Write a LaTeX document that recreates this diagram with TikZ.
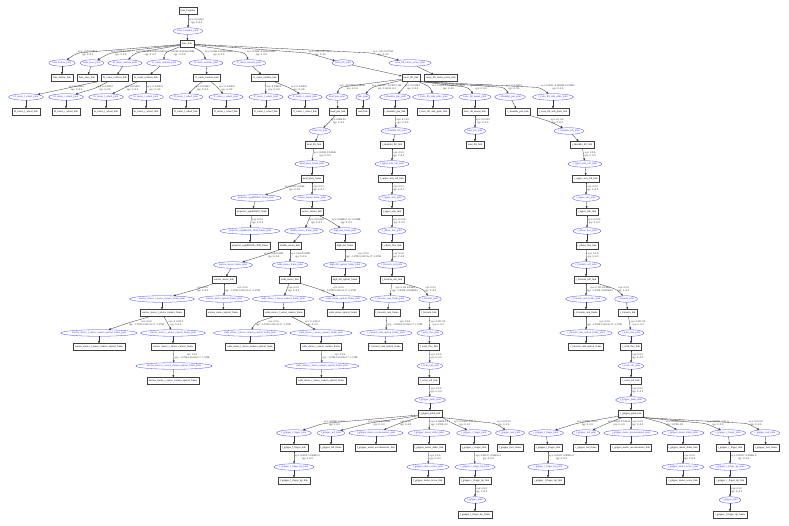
\documentclass[tikz,border=0pt]{standalone}
\usepackage{fontspec}
\setmainfont{Liberation Serif}
\usetikzlibrary{arrows.meta,shapes.geometric}
\tikzset{
  every node/.append style={font=\fontsize{2.55}{2.9}\selectfont},
  lnk/.style={draw=black!75, line width=0.35pt, rectangle, inner xsep=1.8pt, inner ysep=0pt, minimum height=6.8pt, minimum width=11pt},
  jnt/.style={draw=blue!75, text=blue!85, line width=0.3pt, ellipse, inner xsep=0pt, inner ysep=0pt, minimum height=6.5pt},
  lbl/.style={align=center, inner xsep=1pt, inner ysep=0pt, anchor=west, text=black!85},
  edge/.style={draw=black!80, line width=0.3pt, rounded corners=4pt, -{Triangle[length=2.2pt,width=1.7pt]}},
}
\newcommand\Lk[2]{\node[lnk] (#1) at (#2) {#1};}
\newcommand\Jt[2]{\node[jnt] (#1) at (#2) {#1};}
\newcommand\E[2]{\draw[edge] (#1) -- (#2);}
\newcommand\LE[4]{\node[lbl] (lab-#2) at (#3) {#4};\draw[edge] (#1) -- (lab-#2.west) -- (#2);}
\newcommand\X[1]{xyz: #1\\rpy: 0 -0 0}
\newcommand\XR[2]{xyz: #1\\rpy: #2}
\newcommand\OPT{xyz: 0 0 0\\rpy: -1.5708 5.55112e-17 -1.5708}
\begin{document}
\catcode`\_=12
\begin{tikzpicture}[x=1pt,y=1pt]
\useasboundingbox (0,0) rectangle (789,-526);
\fill[white] (0,0) rectangle (789,-526);
% ---------------- nodes ----------------
\Lk{base_footprint}{188,-11}
\Jt{base_footprint_joint}{188,-31}
\Lk{base_link}{187,-44}
\Jt{base_bellow_joint}{62,-63}
\Jt{base_laser_joint}{92,-63}
\Jt{bl_caster_rotation_joint}{125,-63}
\Jt{br_caster_rotation_joint}{164,-63}
\Jt{fl_caster_rotation_joint}{206,-63}
\Jt{fr_caster_rotation_joint}{249,-63}
\Jt{torso_lift_joint}{343,-63}
\Jt{torso_lift_motor_screw_joint}{410,-63}
\Lk{base_bellow_link}{62,-78}
\Lk{base_laser_link}{87,-78}
\Lk{bl_caster_rotation_link}{115,-78}
\Lk{br_caster_rotation_link}{146,-78}
\Lk{fl_caster_rotation_link}{207,-78}
\Lk{fr_caster_rotation_link}{265,-78}
\Lk{torso_lift_link}{411,-78}
\Lk{torso_lift_motor_screw_link}{441,-78}
\Jt{bl_caster_l_wheel_joint}{26,-97}
\Jt{bl_caster_r_wheel_joint}{66,-97}
\Jt{br_caster_l_wheel_joint}{106,-97}
\Jt{br_caster_r_wheel_joint}{146,-97}
\Jt{fl_caster_l_wheel_joint}{186,-97}
\Jt{fl_caster_r_wheel_joint}{226,-97}
\Jt{fr_caster_l_wheel_joint}{266,-97}
\Jt{fr_caster_r_wheel_joint}{305,-97}
\Jt{head_pan_joint}{337,-97}
\Jt{imu_joint}{363,-97}
\Jt{l_shoulder_pan_joint}{395,-97}
\Jt{l_torso_lift_side_plate_joint}{433,-97}
\Jt{laser_tilt_mount_joint}{475,-97}
\Jt{r_shoulder_pan_joint}{510,-97}
\Jt{r_torso_lift_side_plate_joint}{553,-97}
\Lk{bl_caster_l_wheel_link}{26,-112}
\Lk{bl_caster_r_wheel_link}{66,-112}
\Lk{br_caster_l_wheel_link}{106,-112}
\Lk{br_caster_r_wheel_link}{146,-112}
\Lk{fl_caster_l_wheel_link}{186,-112}
\Lk{fl_caster_r_wheel_link}{226,-112}
\Lk{fr_caster_l_wheel_link}{266,-112}
\Lk{fr_caster_r_wheel_link}{305,-112}
\Lk{head_pan_link}{338,-112}
\Lk{imu_link}{363,-112}
\Lk{l_shoulder_pan_link}{395,-112}
\Lk{l_torso_lift_side_plate_link}{433,-112}
\Lk{laser_tilt_mount_link}{475,-112}
\Lk{r_shoulder_pan_link}{518,-112}
\Lk{r_torso_lift_side_plate_link}{553,-112}
\Jt{head_tilt_joint}{320,-131}
\Jt{l_shoulder_lift_joint}{396,-131}
\Jt{laser_tilt_joint}{475,-131}
\Jt{r_shoulder_lift_joint}{569,-131}
\Lk{head_tilt_link}{314,-145}
\Lk{l_shoulder_lift_link}{392,-145}
\Lk{laser_tilt_link}{475,-145}
\Lk{r_shoulder_lift_link}{582,-145}
\Jt{head_plate_frame_joint}{312,-164}
\Jt{l_upper_arm_roll_joint}{392,-164}
\Jt{r_upper_arm_roll_joint}{585,-164}
\Lk{head_plate_frame}{312,-179}
\Lk{l_upper_arm_roll_link}{392,-179}
\Lk{r_upper_arm_roll_link}{586,-179}
\Jt{projector_wg6802418_frame_joint}{256,-198}
\Jt{sensor_mount_frame_joint}{312,-198}
\Jt{l_upper_arm_joint}{392,-198}
\Jt{r_upper_arm_joint}{586,-198}
\Lk{projector_wg6802418_frame}{252,-212}
\Lk{sensor_mount_link}{312,-212}
\Lk{l_upper_arm_link}{392,-212}
\Lk{r_upper_arm_link}{587,-212}
\Jt{projector_wg6802418_child_frame_joint}{250,-231}
\Jt{double_stereo_frame_joint}{304,-231}
\Jt{high_def_frame_joint}{345,-231}
\Jt{l_elbow_flex_joint}{392,-231}
\Jt{r_elbow_flex_joint}{587,-231}
\Lk{projector_wg6802418_child_frame}{250,-246}
\Lk{double_stereo_link}{290,-246}
\Lk{high_def_frame}{345,-246}
\Lk{l_elbow_flex_link}{392,-246}
\Lk{r_elbow_flex_link}{587,-246}
\Jt{narrow_stereo_frame_joint}{233,-265}
\Jt{wide_stereo_frame_joint}{290,-265}
\Jt{high_def_optical_frame_joint}{345,-265}
\Jt{l_forearm_roll_joint}{392,-265}
\Jt{r_forearm_roll_joint}{586,-265}
\Lk{narrow_stereo_link}{224,-280}
\Lk{wide_stereo_link}{290,-280}
\Lk{high_def_optical_frame}{345,-280}
\Lk{l_forearm_roll_link}{392,-280}
\Lk{r_forearm_roll_link}{586,-280}
\Jt{narrow_stereo_l_stereo_camera_frame_joint}{162,-299}
\Jt{narrow_stereo_optical_frame_joint}{224,-299}
\Jt{wide_stereo_l_stereo_camera_frame_joint}{283,-299}
\Jt{wide_stereo_optical_frame_joint}{343,-299}
\Jt{l_forearm_cam_frame_joint}{390,-299}
\Jt{l_forearm_joint}{430,-299}
\Jt{r_forearm_cam_frame_joint}{586,-299}
\Jt{r_forearm_joint}{626,-299}
\Lk{narrow_stereo_l_stereo_camera_frame}{162,-313}
\Lk{narrow_stereo_optical_frame}{223,-313}
\Lk{wide_stereo_l_stereo_camera_frame}{284,-313}
\Lk{wide_stereo_optical_frame}{343,-313}
\Lk{l_forearm_cam_frame}{387,-313}
\Lk{l_forearm_link}{429,-313}
\Lk{r_forearm_cam_frame}{586,-313}
\Lk{r_forearm_link}{628,-313}
\Jt{narrow_stereo_l_stereo_camera_optical_frame_joint}{99,-333}
\Jt{narrow_stereo_r_stereo_camera_frame_joint}{173,-333}
\Jt{wide_stereo_l_stereo_camera_optical_frame_joint}{250,-333}
\Jt{wide_stereo_r_stereo_camera_frame_joint}{321,-333}
\Jt{l_forearm_cam_optical_frame_joint}{386,-333}
\Jt{l_wrist_flex_joint}{430,-333}
\Jt{r_forearm_cam_optical_frame_joint}{586,-333}
\Jt{r_wrist_flex_joint}{631,-333}
\Lk{narrow_stereo_l_stereo_camera_optical_frame}{99,-347}
\Lk{narrow_stereo_r_stereo_camera_frame}{173,-347}
\Lk{wide_stereo_l_stereo_camera_optical_frame}{250,-347}
\Lk{wide_stereo_r_stereo_camera_frame}{321,-347}
\Lk{l_forearm_cam_optical_frame}{385,-347}
\Lk{l_wrist_flex_link}{429,-347}
\Lk{r_forearm_cam_optical_frame}{586,-347}
\Lk{r_wrist_flex_link}{631,-347}
\Jt{narrow_stereo_r_stereo_camera_optical_frame_joint}{174,-366}
\Jt{wide_stereo_r_stereo_camera_optical_frame_joint}{322,-366}
\Jt{l_wrist_roll_joint}{430,-366}
\Jt{r_wrist_roll_joint}{631,-366}
\Lk{narrow_stereo_r_stereo_camera_optical_frame}{173,-381}
\Lk{wide_stereo_r_stereo_camera_optical_frame}{321,-381}
\Lk{l_wrist_roll_link}{429,-381}
\Lk{r_wrist_roll_link}{631,-381}
\Jt{l_gripper_palm_joint}{430,-400}
\Jt{r_gripper_palm_joint}{631,-400}
\Lk{l_gripper_palm_link}{430,-414}
\Lk{r_gripper_palm_link}{631,-414}
\Jt{l_gripper_l_finger_joint}{294,-433}
\Jt{l_gripper_led_joint}{331,-433}
\Jt{l_gripper_motor_accelerometer_joint}{376,-433}
\Jt{l_gripper_motor_slider_joint}{429,-433}
\Jt{l_gripper_r_finger_joint}{474,-433}
\Jt{l_gripper_tool_joint}{510,-433}
\Jt{r_gripper_l_finger_joint}{546,-433}
\Jt{r_gripper_led_joint}{586,-433}
\Jt{r_gripper_motor_accelerometer_joint}{631,-433}
\Jt{r_gripper_motor_slider_joint}{683,-433}
\Jt{r_gripper_r_finger_joint}{728,-433}
\Jt{r_gripper_tool_joint}{765,-433}
\Lk{l_gripper_l_finger_link}{294,-448}
\Lk{l_gripper_led_frame}{331,-448}
\Lk{l_gripper_motor_accelerometer_link}{376,-448}
\Lk{l_gripper_motor_slider_link}{429,-448}
\Lk{l_gripper_r_finger_link}{474,-448}
\Lk{l_gripper_tool_frame}{510,-448}
\Lk{r_gripper_l_finger_link}{548,-448}
\Lk{r_gripper_led_frame}{586,-448}
\Lk{r_gripper_motor_accelerometer_link}{631,-448}
\Lk{r_gripper_motor_slider_link}{683,-448}
\Lk{r_gripper_r_finger_link}{730,-448}
\Lk{r_gripper_tool_frame}{766,-448}
\Jt{l_gripper_l_finger_tip_joint}{294,-467}
\Jt{l_gripper_motor_screw_joint}{428,-467}
\Jt{l_gripper_r_finger_tip_joint}{475,-467}
\Jt{r_gripper_l_finger_tip_joint}{548,-467}
\Jt{r_gripper_motor_screw_joint}{683,-467}
\Jt{r_gripper_r_finger_tip_joint}{730,-467}
\Lk{l_gripper_l_finger_tip_link}{294,-481}
\Lk{l_gripper_motor_screw_link}{428,-481}
\Lk{l_gripper_r_finger_tip_link}{475,-481}
\Lk{r_gripper_l_finger_tip_link}{548,-481}
\Lk{r_gripper_motor_screw_link}{683,-481}
\Lk{r_gripper_r_finger_tip_link}{730,-481}
\Jt{l_gripper_joint}{475,-500}
\Jt{r_gripper_joint}{730,-500}
\Lk{l_gripper_l_finger_tip_frame}{475,-515}
\Lk{r_gripper_l_finger_tip_frame}{730,-515}
% ---------------- edges ----------------
\LE{base_footprint}{base_footprint_joint}{188,-21}{\X{0 0 0.051}}
\E{base_footprint_joint}{base_link}
\LE{base_link}{base_bellow_joint}{77,-53}{\X{-0.29 0 0.851}}
\LE{base_link}{base_laser_joint}{110,-53}{\X{0.275 0 0.252}}
\LE{base_link}{bl_caster_rotation_joint}{135,-53}{\X{-0.2246 0.2246 0.0282}}
\LE{base_link}{br_caster_rotation_joint}{164,-53}{\X{-0.2246 -0.2246 0.0282}}
\LE{base_link}{fl_caster_rotation_joint}{204,-53}{\X{0.2246 0.2246 0.0282}}
\LE{base_link}{fr_caster_rotation_joint}{246,-53}{\X{0.2246 -0.2246 0.0282}}
\LE{base_link}{torso_lift_joint}{308,-53}{\X{-0.05 0 0.739675}}
\LE{base_link}{torso_lift_motor_screw_joint}{372,-53}{\X{-0.15 0 0.7952}}
\E{base_bellow_joint}{base_bellow_link}
\E{base_laser_joint}{base_laser_link}
\E{bl_caster_rotation_joint}{bl_caster_rotation_link}
\E{br_caster_rotation_joint}{br_caster_rotation_link}
\E{fl_caster_rotation_joint}{fl_caster_rotation_link}
\E{fr_caster_rotation_joint}{fr_caster_rotation_link}
\E{torso_lift_joint}{torso_lift_link}
\E{torso_lift_motor_screw_joint}{torso_lift_motor_screw_link}
\LE{bl_caster_rotation_link}{bl_caster_l_wheel_joint}{68,-88}{\X{0 0.049 0}}
\LE{bl_caster_rotation_link}{bl_caster_r_wheel_joint}{96,-88}{\X{0 -0.049 0}}
\LE{br_caster_rotation_link}{br_caster_l_wheel_joint}{124,-88}{\X{0 0.049 0}}
\LE{br_caster_rotation_link}{br_caster_r_wheel_joint}{146,-88}{\X{0 -0.049 0}}
\LE{fl_caster_rotation_link}{fl_caster_l_wheel_joint}{194,-88}{\X{0 0.049 0}}
\LE{fl_caster_rotation_link}{fl_caster_r_wheel_joint}{218,-88}{\X{0 -0.049 0}}
\LE{fr_caster_rotation_link}{fr_caster_l_wheel_joint}{265.5,-88}{\X{0 0.049 0}}
\LE{fr_caster_rotation_link}{fr_caster_r_wheel_joint}{290,-88}{\X{0 -0.049 0}}
\E{bl_caster_l_wheel_joint}{bl_caster_l_wheel_link}
\E{bl_caster_r_wheel_joint}{bl_caster_r_wheel_link}
\E{br_caster_l_wheel_joint}{br_caster_l_wheel_link}
\E{br_caster_r_wheel_joint}{br_caster_r_wheel_link}
\E{fl_caster_l_wheel_joint}{fl_caster_l_wheel_link}
\E{fl_caster_r_wheel_joint}{fl_caster_r_wheel_link}
\E{fr_caster_l_wheel_joint}{fr_caster_l_wheel_link}
\E{fr_caster_r_wheel_joint}{fr_caster_r_wheel_link}
\LE{torso_lift_link}{head_pan_joint}{338.5,-87.5}{\X{-0.01707 0 0.38145}}
\LE{torso_lift_link}{imu_joint}{371,-87.5}{\XR{-0.02977 -0.1497 0.164}{3.14159 -0 0}}
\LE{torso_lift_link}{l_shoulder_pan_joint}{404,-87.5}{\X{0 0.188 0}}
\LE{torso_lift_link}{l_torso_lift_side_plate_joint}{431,-87.5}{\X{0.0535 0.209285 0.176625}}
\LE{torso_lift_link.south east}{laser_tilt_mount_joint}{469,-87.5}{\X{0.09893 0 0.227}}
\LE{torso_lift_link.south east}{r_shoulder_pan_joint}{505,-87.5}{\X{0 -0.188 0}}
\LE{torso_lift_link.south east}{r_torso_lift_side_plate_joint}{540,-87.5}{\X{0.0535 -0.209285 0.176625}}
\E{head_pan_joint}{head_pan_link}
\E{imu_joint}{imu_link}
\E{l_shoulder_pan_joint}{l_shoulder_pan_link}
\E{l_torso_lift_side_plate_joint}{l_torso_lift_side_plate_link}
\E{laser_tilt_mount_joint}{laser_tilt_mount_link}
\E{r_shoulder_pan_joint}{r_shoulder_pan_link}
\E{r_torso_lift_side_plate_joint}{r_torso_lift_side_plate_link}
% head
\LE{head_pan_link}{head_tilt_joint}{330,-121.5}{\X{0.068 0 0}}
\E{head_tilt_joint}{head_tilt_link}
\LE{head_tilt_link}{head_plate_frame_joint}{313,-154.5}{\X{0.0232 0 0.0645}}
\E{head_plate_frame_joint}{head_plate_frame}
\LE{head_plate_frame}{projector_wg6802418_frame_joint}{284,-188.5}{\X{0 0.11 0.0546}}
\LE{head_plate_frame}{sensor_mount_frame_joint}{312,-188.5}{\X{0 0 0}}
\E{projector_wg6802418_frame_joint}{projector_wg6802418_frame}
\E{sensor_mount_frame_joint}{sensor_mount_link}
\LE{projector_wg6802418_frame}{projector_wg6802418_child_frame_joint}{251,-221.5}{\X{0 0 0}}
\E{projector_wg6802418_child_frame_joint}{projector_wg6802418_child_frame}
\LE{sensor_mount_link}{double_stereo_frame_joint}{308,-221.5}{\X{0 0 0.003}}
\LE{sensor_mount_link}{high_def_frame_joint}{331,-221.5}{\X{0.046457 -0.11 0.0488}}
\E{double_stereo_frame_joint}{double_stereo_link}
\E{high_def_frame_joint}{high_def_frame}
\LE{double_stereo_link}{narrow_stereo_frame_joint}{263,-255.5}{\X{0 0.06 0.0305}}
\LE{double_stereo_link}{wide_stereo_frame_joint}{290,-255.5}{\X{0 0.03 0.0305}}
\LE{high_def_frame}{high_def_optical_frame_joint}{345,-255.5}{\OPT}
\E{narrow_stereo_frame_joint}{narrow_stereo_link}
\E{wide_stereo_frame_joint}{wide_stereo_link}
\E{high_def_optical_frame_joint}{high_def_optical_frame}
\LE{narrow_stereo_link}{narrow_stereo_l_stereo_camera_frame_joint}{196,-289.5}{\X{0 0 0}}
\LE{narrow_stereo_link}{narrow_stereo_optical_frame_joint}{224,-289.5}{\OPT}
\LE{wide_stereo_link}{wide_stereo_l_stereo_camera_frame_joint}{287,-289.5}{\X{0 0 0}}
\LE{wide_stereo_link}{wide_stereo_optical_frame_joint}{320,-289.5}{\OPT}
\E{narrow_stereo_l_stereo_camera_frame_joint}{narrow_stereo_l_stereo_camera_frame}
\E{narrow_stereo_optical_frame_joint}{narrow_stereo_optical_frame}
\E{wide_stereo_l_stereo_camera_frame_joint}{wide_stereo_l_stereo_camera_frame}
\E{wide_stereo_optical_frame_joint}{wide_stereo_optical_frame}
\LE{narrow_stereo_l_stereo_camera_frame}{narrow_stereo_l_stereo_camera_optical_frame_joint}{128,-323}{\OPT}
\LE{narrow_stereo_l_stereo_camera_frame}{narrow_stereo_r_stereo_camera_frame_joint}{167.5,-323}{\X{0 -0.09 0}}
\LE{wide_stereo_l_stereo_camera_frame}{wide_stereo_l_stereo_camera_optical_frame_joint}{255,-323}{\OPT}
\LE{wide_stereo_l_stereo_camera_frame}{wide_stereo_r_stereo_camera_frame_joint}{304,-323}{\X{0 -0.09 0}}
\E{narrow_stereo_l_stereo_camera_optical_frame_joint}{narrow_stereo_l_stereo_camera_optical_frame}
\E{narrow_stereo_r_stereo_camera_frame_joint}{narrow_stereo_r_stereo_camera_frame}
\E{wide_stereo_l_stereo_camera_optical_frame_joint}{wide_stereo_l_stereo_camera_optical_frame}
\E{wide_stereo_r_stereo_camera_frame_joint}{wide_stereo_r_stereo_camera_frame}
\LE{narrow_stereo_r_stereo_camera_frame}{narrow_stereo_r_stereo_camera_optical_frame_joint}{173.5,-356.5}{\OPT}
\LE{wide_stereo_r_stereo_camera_frame}{wide_stereo_r_stereo_camera_optical_frame_joint}{321.5,-356.5}{\OPT}
\E{narrow_stereo_r_stereo_camera_optical_frame_joint}{narrow_stereo_r_stereo_camera_optical_frame}
\E{wide_stereo_r_stereo_camera_optical_frame_joint}{wide_stereo_r_stereo_camera_optical_frame}
% laser
\LE{laser_tilt_mount_link}{laser_tilt_joint}{475,-121.5}{\X{0 0 0.03}}
\E{laser_tilt_joint}{laser_tilt_link}
% left arm
\LE{l_shoulder_pan_link}{l_shoulder_lift_joint}{395.5,-121.5}{\X{0.1 0 0}}
\E{l_shoulder_lift_joint}{l_shoulder_lift_link}
\LE{l_shoulder_lift_link}{l_upper_arm_roll_joint}{392,-154.5}{\X{0 0 0}}
\E{l_upper_arm_roll_joint}{l_upper_arm_roll_link}
\LE{l_upper_arm_roll_link}{l_upper_arm_joint}{392,-188.5}{\X{0 0 0}}
\E{l_upper_arm_joint}{l_upper_arm_link}
\LE{l_upper_arm_link}{l_elbow_flex_joint}{392,-221.5}{\X{0.4 0 0}}
\E{l_elbow_flex_joint}{l_elbow_flex_link}
\LE{l_elbow_flex_link}{l_forearm_roll_joint}{392,-255.5}{\X{0 0 0}}
\E{l_forearm_roll_joint}{l_forearm_roll_link}
\LE{l_forearm_roll_link}{l_forearm_cam_frame_joint}{391,-289.5}{\XR{0.135 0 0.044}{-1.5708 -0.562869 0}}
\LE{l_forearm_roll_link}{l_forearm_joint}{424,-289.5}{\X{0 0 0}}
\E{l_forearm_cam_frame_joint}{l_forearm_cam_frame}
\E{l_forearm_joint}{l_forearm_link}
\LE{l_forearm_cam_frame}{l_forearm_cam_optical_frame_joint}{386.5,-323}{\OPT}
\LE{l_forearm_link}{l_wrist_flex_joint}{429.5,-323}{\X{0.321 0 0}}
\E{l_forearm_cam_optical_frame_joint}{l_forearm_cam_optical_frame}
\E{l_wrist_flex_joint}{l_wrist_flex_link}
\LE{l_wrist_flex_link}{l_wrist_roll_joint}{429.5,-356.5}{\X{0 0 0}}
\E{l_wrist_roll_joint}{l_wrist_roll_link}
\LE{l_wrist_roll_link}{l_gripper_palm_joint}{429.5,-390.5}{\X{0 0 0}}
\E{l_gripper_palm_joint}{l_gripper_palm_link}
\LE{l_gripper_palm_link}{l_gripper_l_finger_joint}{323,-423.5}{\X{0.07691 0.01 0}}
\LE{l_gripper_palm_link}{l_gripper_led_joint}{367,-423.5}{\X{0.0513 0 0.0244}}
\LE{l_gripper_palm_link}{l_gripper_motor_accelerometer_joint}{399,-423.5}{\X{0 0 0}}
\LE{l_gripper_palm_link}{l_gripper_motor_slider_joint}{429.5,-423.5}{\XR{0.16828 0 0}{1.5708 -0 0}}
\LE{l_gripper_palm_link.south east}{l_gripper_r_finger_joint}{453,-423.5}{\X{0.07691 -0.01 0}}
\LE{l_gripper_palm_link.south east}{l_gripper_tool_joint}{496,-423.5}{\X{0.18 0 0}}
\E{l_gripper_l_finger_joint}{l_gripper_l_finger_link}
\E{l_gripper_led_joint}{l_gripper_led_frame}
\E{l_gripper_motor_accelerometer_joint}{l_gripper_motor_accelerometer_link}
\E{l_gripper_motor_slider_joint}{l_gripper_motor_slider_link}
\E{l_gripper_r_finger_joint}{l_gripper_r_finger_link}
\E{l_gripper_tool_joint}{l_gripper_tool_frame}
\LE{l_gripper_l_finger_link}{l_gripper_l_finger_tip_joint}{294,-457.5}{\X{0.09137 0.00495 0}}
\LE{l_gripper_motor_slider_link}{l_gripper_motor_screw_joint}{428.5,-457.5}{\X{0 0 0}}
\LE{l_gripper_r_finger_link}{l_gripper_r_finger_tip_joint}{474.5,-457.5}{\X{0.09137 -0.00495 0}}
\E{l_gripper_l_finger_tip_joint}{l_gripper_l_finger_tip_link}
\E{l_gripper_motor_screw_joint}{l_gripper_motor_screw_link}
\E{l_gripper_r_finger_tip_joint}{l_gripper_r_finger_tip_link}
\LE{l_gripper_r_finger_tip_link}{l_gripper_joint}{475,-490.5}{\X{0 0 0}}
\E{l_gripper_joint}{l_gripper_l_finger_tip_frame}
% right arm
\LE{r_shoulder_pan_link}{r_shoulder_lift_joint}{550,-121.5}{\X{0.1 0 0}}
\E{r_shoulder_lift_joint}{r_shoulder_lift_link}
\LE{r_shoulder_lift_link}{r_upper_arm_roll_joint}{583.5,-154.5}{\X{0 0 0}}
\E{r_upper_arm_roll_joint}{r_upper_arm_roll_link}
\LE{r_upper_arm_roll_link}{r_upper_arm_joint}{586,-188.5}{\X{0 0 0}}
\E{r_upper_arm_joint}{r_upper_arm_link}
\LE{r_upper_arm_link}{r_elbow_flex_joint}{587,-221.5}{\X{0.4 0 0}}
\E{r_elbow_flex_joint}{r_elbow_flex_link}
\LE{r_elbow_flex_link}{r_forearm_roll_joint}{586.5,-255.5}{\X{0 0 0}}
\E{r_forearm_roll_joint}{r_forearm_roll_link}
\LE{r_forearm_roll_link}{r_forearm_cam_frame_joint}{586,-289.5}{\XR{0.135 0 0.044}{-1.5708 -0.562869 0}}
\LE{r_forearm_roll_link}{r_forearm_joint}{617,-289.5}{\X{0 0 0}}
\E{r_forearm_cam_frame_joint}{r_forearm_cam_frame}
\E{r_forearm_joint}{r_forearm_link}
\LE{r_forearm_cam_frame}{r_forearm_cam_optical_frame_joint}{586,-323}{\OPT}
\LE{r_forearm_link}{r_wrist_flex_joint}{629.5,-323}{\X{0.321 0 0}}
\E{r_forearm_cam_optical_frame_joint}{r_forearm_cam_optical_frame}
\E{r_wrist_flex_joint}{r_wrist_flex_link}
\LE{r_wrist_flex_link}{r_wrist_roll_joint}{631,-356.5}{\X{0 0 0}}
\E{r_wrist_roll_joint}{r_wrist_roll_link}
\LE{r_wrist_roll_link}{r_gripper_palm_joint}{631,-390.5}{\X{0 0 0}}
\E{r_gripper_palm_joint}{r_gripper_palm_link}
\LE{r_gripper_palm_link}{r_gripper_l_finger_joint}{576,-423.5}{\X{0.07691 0.01 0}}
\LE{r_gripper_palm_link}{r_gripper_led_joint}{607,-423.5}{\X{0.0513 0 0.0244}}
\LE{r_gripper_palm_link}{r_gripper_motor_accelerometer_joint}{631,-423.5}{\X{0 0 0}}
\LE{r_gripper_palm_link.south east}{r_gripper_motor_slider_joint}{665,-423.5}{\XR{0.16828 0 0}{1.5708 -0 0}}
\LE{r_gripper_palm_link.south east}{r_gripper_r_finger_joint}{706,-423.5}{\X{0.07691 -0.01 0}}
\LE{r_gripper_palm_link.south east}{r_gripper_tool_joint}{748,-423.5}{\X{0.18 0 0}}
\E{r_gripper_l_finger_joint}{r_gripper_l_finger_link}
\E{r_gripper_led_joint}{r_gripper_led_frame}
\E{r_gripper_motor_accelerometer_joint}{r_gripper_motor_accelerometer_link}
\E{r_gripper_motor_slider_joint}{r_gripper_motor_slider_link}
\E{r_gripper_r_finger_joint}{r_gripper_r_finger_link}
\E{r_gripper_tool_joint}{r_gripper_tool_frame}
\LE{r_gripper_l_finger_link}{r_gripper_l_finger_tip_joint}{548,-457.5}{\X{0.09137 0.00495 0}}
\LE{r_gripper_motor_slider_link}{r_gripper_motor_screw_joint}{683,-457.5}{\X{0 0 0}}
\LE{r_gripper_r_finger_link}{r_gripper_r_finger_tip_joint}{730,-457.5}{\X{0.09137 -0.00495 0}}
\E{r_gripper_l_finger_tip_joint}{r_gripper_l_finger_tip_link}
\E{r_gripper_motor_screw_joint}{r_gripper_motor_screw_link}
\E{r_gripper_r_finger_tip_joint}{r_gripper_r_finger_tip_link}
\LE{r_gripper_r_finger_tip_link}{r_gripper_joint}{730,-490.5}{\X{0 0 0}}
\E{r_gripper_joint}{r_gripper_l_finger_tip_frame}
\end{tikzpicture}
\end{document}
